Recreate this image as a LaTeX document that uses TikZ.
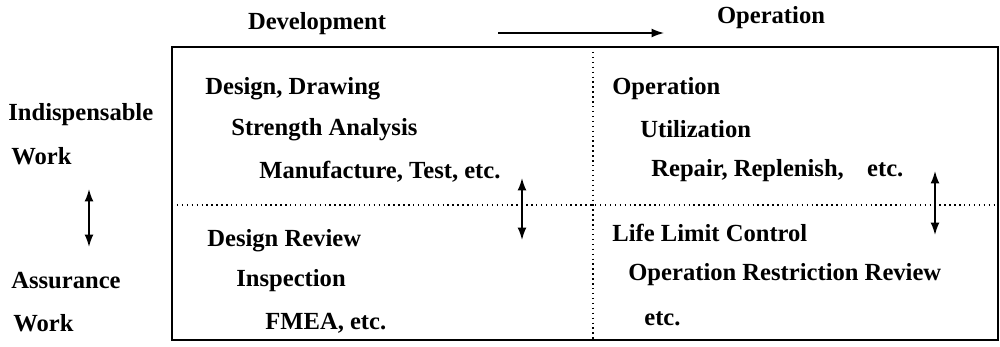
\documentclass[tikz,border=0pt]{standalone}
\usepackage{fontspec}
\setmainfont{Liberation Serif}
\usetikzlibrary{arrows.meta}
\tikzset{
  lbl/.style={anchor=west, inner sep=0pt, font=\fontsize{14}{16}\selectfont\bfseries},
  hd/.style={inner sep=0pt, font=\fontsize{14}{16}\selectfont\bfseries},
  dbl/.style={{Latex[length=7pt,width=5pt]}-{Latex[length=7pt,width=5pt]}, line width=0.9pt}
}
\begin{document}
\begin{tikzpicture}[x=0.02cm, y=-0.02cm]
      \useasboundingbox (0,0) rectangle (1000,346);
      % headings along the top
      \node[hd] (dev) at (317,24) {Development};
      \node[hd] (ops) at (771,18) {Operation};
      \coordinate (a0) at (498,33);
      \coordinate (a1) at (664,33);
      \draw[-{Latex[length=7pt,width=5pt]}, line width=0.8pt] (a0) -- (a1);
      % frame and dividers
      \coordinate (tl) at (172,47);
      \coordinate (br) at (998,340);
      \draw[line width=0.8pt] (tl) rectangle (br);
      \draw[dotted, line width=0.8pt] (593,47) -- (593,340);
      \draw[dotted, line width=0.8pt] (172,205) -- (998,205);
      % row labels on the left
      \node[lbl] (ind) at (8,115) {Indispensable};
      \node[lbl] (w1) at (11,156) {Work};
      \node[lbl] (asr) at (11,281) {Assurance};
      \node[lbl] (w2) at (13,323) {Work};
      \coordinate (l0) at (89,189);
      \coordinate (l1) at (89,247);
      \draw[dbl] (l0) -- (l1);
      % development side
      \node[lbl] (d1) at (205,89) {Design, Drawing};
      \node[lbl] (d2) at (231,130) {Strength Analysis};
      \node[lbl] (d3) at (259,172) {Manufacture, Test, etc.};
      \node[lbl] (d4) at (207,241) {Design Review};
      \node[lbl] (d5) at (236,281) {Inspection};
      \node[lbl] (d6) at (265,323) {FMEA, etc.};
      \coordinate (m0) at (522,178);
      \coordinate (m1) at (522,240);
      \draw[dbl] (m0) -- (m1);
      % operation side
      \node[lbl] (o1) at (612,89) {Operation};
      \node[lbl] (o2) at (640,129) {Utilization};
      \node[lbl] (o3) at (651,171) {Repair, Replenish,\hspace{0.95em}etc.};
      \node[lbl] (o4) at (612,233) {Life Limit Control};
      \node[lbl] (o5) at (628,275) {Operation Restriction Review};
      \node[lbl] (o6) at (644,319) {etc.};
      \coordinate (r0) at (935,171);
      \coordinate (r1) at (935,235);
      \draw[dbl] (r0) -- (r1);
\end{tikzpicture}
\end{document}
